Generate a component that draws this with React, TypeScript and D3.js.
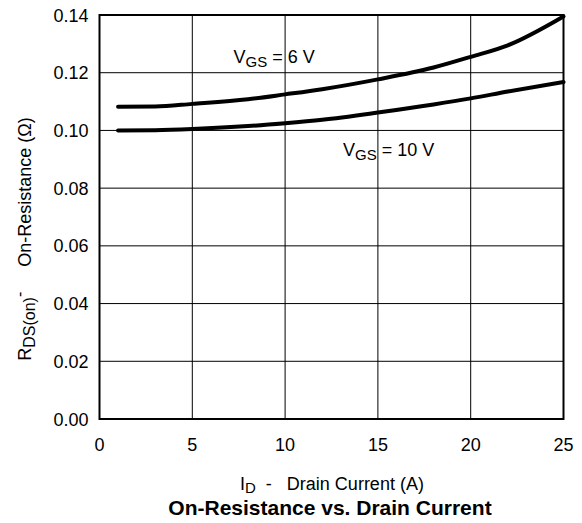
import React, { useEffect, useRef } from 'react';
import * as d3 from 'd3';

// drain current (A) and on-resistance (ohm)
const idPoints = [1, 3, 5, 8, 10, 12, 15, 18, 20, 22, 25];
const rdsVgs6 = [0.1082, 0.1083, 0.1092, 0.1108, 0.1125, 0.1143, 0.1177, 0.1218, 0.1255, 0.1295, 0.1395];
const rdsVgs10 = [0.1, 0.1001, 0.1005, 0.1015, 0.1025, 0.1037, 0.1062, 0.109, 0.1111, 0.1135, 0.1168];

const xTicks = [0, 5, 10, 15, 20, 25];
const yTicks = [0, 0.02, 0.04, 0.06, 0.08, 0.1, 0.12, 0.14];

const W = 582;
const H = 523;
const FONT = 'Liberation Sans, Arial, sans-serif';

const App = () => {
  const svgRef = useRef<SVGSVGElement>(null);

  useEffect(() => {
    const svg = d3.select(svgRef.current);
    svg.selectAll('*').remove();

    const x = d3.scaleLinear().domain([0, 25]).range([99.5, 563.5]);
    const y = d3.scaleLinear().domain([0, 0.14]).range([419, 15]);

    // grid
    svg.selectAll('line.gx')
      .data(xTicks.slice(1, -1))
      .enter()
      .append('line')
      .attr('x1', d => x(d))
      .attr('x2', d => x(d))
      .attr('y1', y(0))
      .attr('y2', y(0.14))
      .attr('stroke', 'black')
      .attr('stroke-width', 1);

    svg.selectAll('line.gy')
      .data(yTicks.slice(1, -1))
      .enter()
      .append('line')
      .attr('x1', x(0))
      .attr('x2', x(25))
      .attr('y1', d => y(d))
      .attr('y2', d => y(d))
      .attr('stroke', 'black')
      .attr('stroke-width', 1);

    // frame
    svg.append('rect')
      .attr('x', x(0))
      .attr('y', y(0.14))
      .attr('width', x(25) - x(0))
      .attr('height', y(0) - y(0.14))
      .attr('fill', 'none')
      .attr('stroke', 'black')
      .attr('stroke-width', 2);

    // tick labels
    svg.selectAll('text.xt')
      .data(xTicks)
      .enter()
      .append('text')
      .attr('x', d => x(d))
      .attr('y', 451)
      .attr('text-anchor', 'middle')
      .attr('font-family', FONT)
      .attr('font-size', 18)
      .text(d => d);

    svg.selectAll('text.yt')
      .data(yTicks)
      .enter()
      .append('text')
      .attr('x', 88.5)
      .attr('y', d => y(d) + 6.5)
      .attr('text-anchor', 'end')
      .attr('font-family', FONT)
      .attr('font-size', 18)
      .text(d => d3.format('.2f')(d));

    // curves
    const line = d3.line<[number, number]>()
      .x(d => x(d[0]))
      .y(d => y(d[1]))
      .curve(d3.curveMonotoneX);

    [rdsVgs6, rdsVgs10].forEach(series => {
      svg.append('path')
        .datum(idPoints.map((v, i) => [v, series[i]] as [number, number]))
        .attr('d', line)
        .attr('fill', 'none')
        .attr('stroke', 'black')
        .attr('stroke-width', 4)
        .attr('stroke-linecap', 'round');
    });

    // curve labels
    const vgsLabel = (lx: number, ly: number, v: string) => {
      const t = svg.append('text')
        .attr('x', lx)
        .attr('y', ly)
        .attr('font-family', FONT)
        .attr('font-size', 18);
      t.append('tspan').text('V');
      t.append('tspan').attr('dy', 4).attr('font-size', 15).text('GS');
      t.append('tspan').attr('dy', -4).text(' = ' + v);
    };
    vgsLabel(233.5, 62.5, '6 V');
    vgsLabel(343, 155.5, '10 V');

    // x axis title
    const xl = svg.append('text')
      .attr('x', 240)
      .attr('y', 490)
      .attr('font-family', FONT)
      .attr('font-size', 18);
    xl.append('tspan').text('I');
    xl.append('tspan').attr('dy', 3).attr('font-size', 15).text('D');
    xl.append('tspan').attr('dy', -3).attr('xml:space', 'preserve').text('  -   Drain Current (A)');

    svg.append('text')
      .attr('x', 330)
      .attr('y', 515)
      .attr('text-anchor', 'middle')
      .attr('font-family', FONT)
      .attr('font-size', 21)
      .attr('font-weight', 'bold')
      .text('On-Resistance vs. Drain Current');

    // y axis title
    const yl = svg.append('text')
      .attr('transform', 'translate(31,239) rotate(-90)')
      .attr('text-anchor', 'middle')
      .attr('font-family', FONT)
      .attr('font-size', 18);
    yl.append('tspan').text('R');
    yl.append('tspan').attr('dy', 4).attr('font-size', 16).text('DS(on)');
    yl.append('tspan').attr('dy', -10).attr('font-size', 16).text('-');
    yl.append('tspan').attr('dy', 6).attr('xml:space', 'preserve').text('     On-Resistance (Ω)');
  }, []);

  return (
    <svg ref={svgRef} width={W} height={H}
      style={{ position: 'absolute', left: 0, top: 0, background: 'white' }}></svg>
  );
};

export default App;
